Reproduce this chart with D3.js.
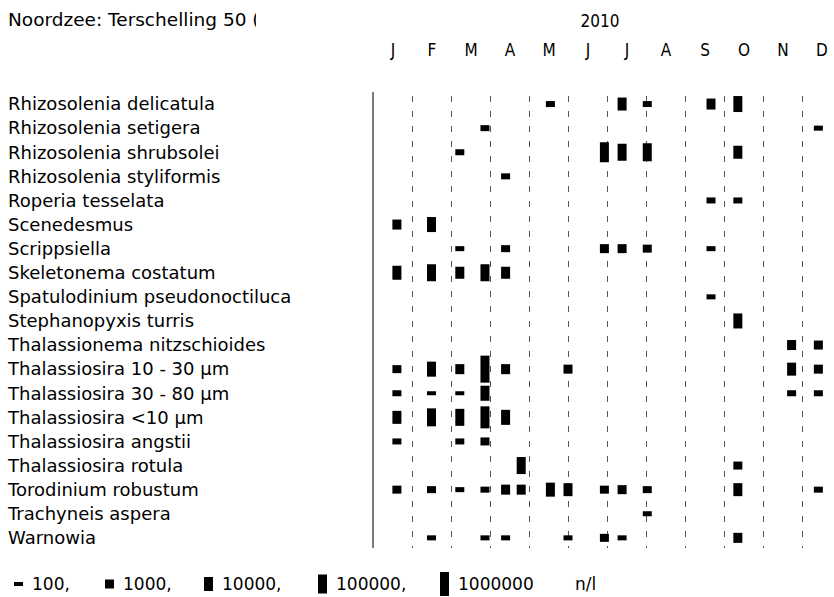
<!DOCTYPE html>
<html><head><meta charset="utf-8">
<script src="https://cdn.jsdelivr.net/npm/d3@7"></script>
<style>
html,body{margin:0;padding:0;background:#fff;}
svg{display:block;}
</style></head>
<body>
<script>
const title = "Noordzee: Terschelling 50 (km uit de kust)";
const titleVisiblePart = "Noordzee: Terschelling 50 (";
const yearLabel = "2010";
const months = ["J","F","M","A","M","J","J","A","S","O","N","D"];
const species = [
  "Rhizosolenia delicatula","Rhizosolenia setigera","Rhizosolenia shrubsolei",
  "Rhizosolenia styliformis","Roperia tesselata","Scenedesmus","Scrippsiella",
  "Skeletonema costatum","Spatulodinium pseudonoctiluca","Stephanopyxis turris",
  "Thalassionema nitzschioides","Thalassiosira 10 - 30 µm","Thalassiosira 30 - 80 µm",
  "Thalassiosira <10 µm","Thalassiosira angstii","Thalassiosira rotula",
  "Torodinium robustum","Trachyneis aspera","Warnowia"
];
// [species index, sample date, cells per litre]
const records = [
  [0,"2010-05-18",250],[0,"2010-07-13",6300],[0,"2010-08-02",250],[0,"2010-09-21",2500],[0,"2010-10-12",25000],
  [1,"2010-03-28",250],[1,"2010-12-14",160],
  [2,"2010-03-08",250],[2,"2010-06-29",158000],[2,"2010-07-13",40000],[2,"2010-08-02",63000],[2,"2010-10-12",6300],
  [3,"2010-04-13",250],
  [4,"2010-09-21",250],[4,"2010-10-12",250],
  [5,"2010-01-20",1600],[5,"2010-02-15",16000],
  [6,"2010-03-08",160],[6,"2010-04-13",400],[6,"2010-06-29",1000],[6,"2010-07-13",1000],[6,"2010-08-02",630],[6,"2010-09-21",160],
  [7,"2010-01-20",10000],[7,"2010-02-15",40000],[7,"2010-03-08",4000],[7,"2010-03-28",40000],[7,"2010-04-13",4000],
  [8,"2010-09-21",160],
  [9,"2010-10-12",16000],
  [10,"2010-11-23",1600],[10,"2010-12-14",1000],
  [11,"2010-01-20",630],[11,"2010-02-15",16000],[11,"2010-03-08",1600],[11,"2010-03-28",4000000],[11,"2010-04-13",1600],[11,"2010-06-01",1000],[11,"2010-11-23",6300],[11,"2010-12-14",1000],
  [12,"2010-01-20",250],[12,"2010-02-15",100],[12,"2010-03-08",100],[12,"2010-03-28",16000],[12,"2010-11-23",250],[12,"2010-12-14",250],
  [13,"2010-01-20",6300],[13,"2010-02-15",63000],[13,"2010-03-08",40000],[13,"2010-03-28",400000],[13,"2010-04-13",16000],
  [14,"2010-01-20",250],[14,"2010-03-08",250],[14,"2010-03-28",630],
  [15,"2010-04-25",40000],[15,"2010-10-12",630],
  [16,"2010-01-20",630],[16,"2010-02-15",400],[16,"2010-03-08",160],[16,"2010-03-28",250],[16,"2010-04-13",1600],[16,"2010-04-25",1600],[16,"2010-05-18",10000],[16,"2010-06-01",6300],[16,"2010-06-29",630],[16,"2010-07-13",1000],[16,"2010-08-02",400],[16,"2010-10-12",6300],[16,"2010-12-14",250],
  [17,"2010-08-02",160],
  [18,"2010-02-15",160],[18,"2010-03-28",160],[18,"2010-04-13",160],[18,"2010-06-01",160],[18,"2010-06-29",630],[18,"2010-07-13",160],[18,"2010-10-12",1600]
];
const legendValues = [100,1000,10000,100000,1000000];
const legendLabels = ["100,","1000,","10000,","100000,","1000000"];
const unitLabel = "n/l";

const W = 834, H = 597;
const svg = d3.select("body").append("svg").attr("width",W).attr("height",H);
const labelFont = "'DejaVu Sans', Verdana, sans-serif";
const monthFont = "'DejaVu Sans Condensed','Liberation Sans Narrow','DejaVu Sans',sans-serif";

// x: fractional month position
const x = d3.scaleLinear().domain([0,12]).range([373,841]);
const parse = d3.timeParse("%Y-%m-%d");
function monthPos(s){
  const d = parse(s);
  const m = d.getMonth();
  const dim = new Date(d.getFullYear(), m+1, 0).getDate();
  return m + (d.getDate()-1)/dim;
}
const y = d3.scaleBand().domain(d3.range(species.length)).range([92, 92+24.1*species.length]).padding(0);
const hScale = d3.scaleLinear().domain([2,6]).range([4,24]); // log10(value) -> bar height
const barW = 9;

// title (clipped like the original)
const titleSize = 18.5;
const tmp = svg.append("text").attr("font-family",labelFont).attr("font-size",titleSize).text(titleVisiblePart);
const visW = tmp.node().getComputedTextLength();
tmp.remove();
svg.append("clipPath").attr("id","tclip").append("rect").attr("x",0).attr("y",0).attr("width",8+visW-3.5).attr("height",40);
svg.append("text").attr("x",8).attr("y",26).attr("clip-path","url(#tclip)")
  .attr("font-family",labelFont).attr("font-size",titleSize).attr("fill","#000").text(title);

svg.append("text").attr("x",600).attr("y",27).attr("text-anchor","middle")
  .attr("font-family",monthFont).attr("font-size",17).attr("fill","#000").text(yearLabel);

// month axis
const axis = d3.axisTop(x).tickValues(d3.range(12).map(i=>i+0.5)).tickSize(0).tickFormat((d,i)=>months[i]);
const gAx = svg.append("g").attr("transform","translate(0,59)").call(axis);
gAx.select(".domain").remove();
gAx.selectAll("text").attr("font-family",monthFont).attr("font-size",17).attr("fill","#000").attr("dy",0);

// grid lines
const gridTop = 92, gridBottom = 548;
svg.append("line").attr("x1",x(0)).attr("x2",x(0)).attr("y1",gridTop).attr("y2",gridBottom)
  .attr("stroke","#7a7a7a").attr("stroke-width",2);
svg.append("g").selectAll("line").data(d3.range(1,12)).join("line")
  .attr("x1",d=>Math.round(x(d))+0.5).attr("x2",d=>Math.round(x(d))+0.5)
  .attr("y1",gridTop+4).attr("y2",gridBottom)
  .attr("stroke","#555").attr("stroke-width",1).attr("stroke-dasharray","6,9");

// species labels
svg.append("g").selectAll("text").data(species).join("text")
  .attr("x",8).attr("y",(d,i)=>y(i)+y.bandwidth()/2).attr("dy","0.35em")
  .attr("font-family",labelFont).attr("font-size",18).attr("fill","#000").text(d=>d);

// bars
svg.append("g").selectAll("rect").data(records).join("rect")
  .attr("x",d=>x(monthPos(d[1]))-barW/2)
  .attr("width",barW)
  .attr("y",d=>y(d[0])+y.bandwidth()/2-hScale(Math.log10(d[2]))/2)
  .attr("height",d=>hScale(Math.log10(d[2])))
  .attr("fill","#000");

// legend
const legX = [14,105,204,318,440];
const ly = 584;
const lg = svg.append("g");
legendValues.forEach((v,i)=>{
  const h = hScale(Math.log10(v));
  lg.append("rect").attr("x",legX[i]).attr("y",ly-h/2).attr("width",barW).attr("height",h).attr("fill","#000");
  lg.append("text").attr("x",legX[i]+18).attr("y",ly).attr("dy","0.35em")
    .attr("font-family",labelFont).attr("font-size",17).attr("fill","#000").text(legendLabels[i]);
});
lg.append("text").attr("x",575).attr("y",ly).attr("dy","0.35em")
  .attr("font-family",labelFont).attr("font-size",17).attr("fill","#000").text(unitLabel);
</script>
</body></html>
